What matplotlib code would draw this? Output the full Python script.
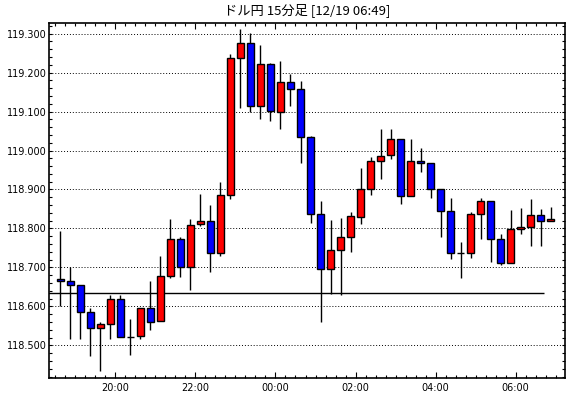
import matplotlib.pyplot as plt
from matplotlib.ticker import FixedLocator, MultipleLocator, FormatStrFormatter

# 15分足 (18:30 から 06:45 まで)
opens = [118.670, 118.665, 118.654, 118.585, 118.544, 118.554, 118.618, 118.522, 118.523, 118.595,
         118.562, 118.677, 118.772, 118.702, 118.811, 118.819, 118.738, 118.886, 119.237, 119.276,
         119.115, 119.222, 119.098, 119.175, 119.157, 119.034, 118.836, 118.695, 118.744, 118.778,
         118.829, 118.900, 118.974, 118.988, 119.029, 118.883, 118.974, 118.969, 118.900, 118.846,
         118.737, 118.737, 118.837, 118.870, 118.773, 118.711, 118.798, 118.803, 118.834, 118.818]
highs = [118.793, 118.700, 118.655, 118.595, 118.559, 118.628, 118.628, 118.568, 118.595, 118.665,
         118.729, 118.824, 118.777, 118.824, 118.888, 118.860, 118.918, 119.248, 119.313, 119.302,
         119.272, 119.225, 119.230, 119.197, 119.179, 119.038, 118.870, 118.821, 118.827, 118.842,
         118.956, 118.984, 119.056, 119.055, 119.029, 119.029, 119.006, 118.969, 118.900, 118.877,
         118.766, 118.842, 118.879, 118.870, 118.785, 118.848, 118.853, 118.876, 118.850, 118.856]
lows = [118.600, 118.517, 118.517, 118.472, 118.435, 118.517, 118.521, 118.476, 118.517, 118.540,
        118.562, 118.672, 118.676, 118.643, 118.806, 118.689, 118.730, 118.875, 119.109, 119.098,
        119.082, 119.076, 119.054, 119.115, 118.969, 118.815, 118.560, 118.632, 118.630, 118.740,
        118.812, 118.887, 118.928, 118.977, 118.862, 118.883, 118.944, 118.879, 118.778, 118.722,
        118.672, 118.723, 118.774, 118.713, 118.705, 118.711, 118.787, 118.754, 118.756, 118.818]
closes = [118.664, 118.654, 118.585, 118.544, 118.554, 118.618, 118.521, 118.522, 118.595, 118.559,
          118.677, 118.772, 118.702, 118.810, 118.819, 118.738, 118.885, 119.238, 119.276, 119.115,
          119.222, 119.101, 119.175, 119.157, 119.034, 118.836, 118.695, 118.744, 118.778, 118.831,
          118.900, 118.974, 118.987, 119.029, 118.883, 118.974, 118.969, 118.900, 118.846, 118.736,
          118.737, 118.837, 118.870, 118.772, 118.711, 118.798, 118.803, 118.834, 118.818, 118.824]

time_labels = ['20:00', '22:00', '00:00', '02:00', '04:00', '06:00']
level_line = 118.634

fig = plt.figure(figsize=(5.7, 3.98), dpi=100)
ax = fig.add_axes([0.0868, 0.051, 0.905, 0.892])

x = list(range(len(opens)))
w = 0.65
for i in x:
    o, h, l, c = opens[i], highs[i], lows[i], closes[i]
    ax.vlines(i, l, h, color='black', lw=1.0, zorder=2)
    if c > o:
        col = 'red'
    elif c < o:
        col = 'blue'
    else:
        col = 'black'
    ax.bar(i, c - o, bottom=o, width=w, color=col, edgecolor='black', lw=1.0, zorder=3)

# 水平線
ax.hlines(level_line, -1.2, 48.35, color='black', lw=1.0, zorder=1)

ax.set_xlim(-1.1, 50.48)
ax.set_ylim(118.417, 119.328)

# 目盛
major_x = [5.5 + 8 * k for k in range(len(time_labels))]
ax.xaxis.set_major_locator(FixedLocator(major_x))
ax.set_xticklabels(time_labels)
ax.xaxis.set_minor_locator(FixedLocator([i + 0.5 for i in range(-2, 51)]))
ax.yaxis.set_major_locator(MultipleLocator(0.1))
ax.yaxis.set_minor_locator(MultipleLocator(0.02))
ax.yaxis.set_major_formatter(FormatStrFormatter('%.3f'))

ax.tick_params(which='both', direction='in', top=True, right=True, width=0.8, labelsize=7, colors='black')
ax.tick_params(which='major', length=4.5, pad=4)
ax.tick_params(which='minor', length=2.4)
ax.tick_params(axis='y', which='major', length=2.5, pad=2)

ax.grid(axis='y', which='major', color='black', linestyle=(0, (1, 2)), lw=0.7, zorder=0)
for s in ax.spines.values():
    s.set_linewidth(1.2)

fig.text(0.539, 0.974, 'ドル円 15分足 [12/19 06:49]', ha='center', va='center',
         fontsize=9.5, family=['Noto Sans CJK JP', 'DejaVu Sans'])

fig.savefig('out.png', dpi=100, facecolor='white')
